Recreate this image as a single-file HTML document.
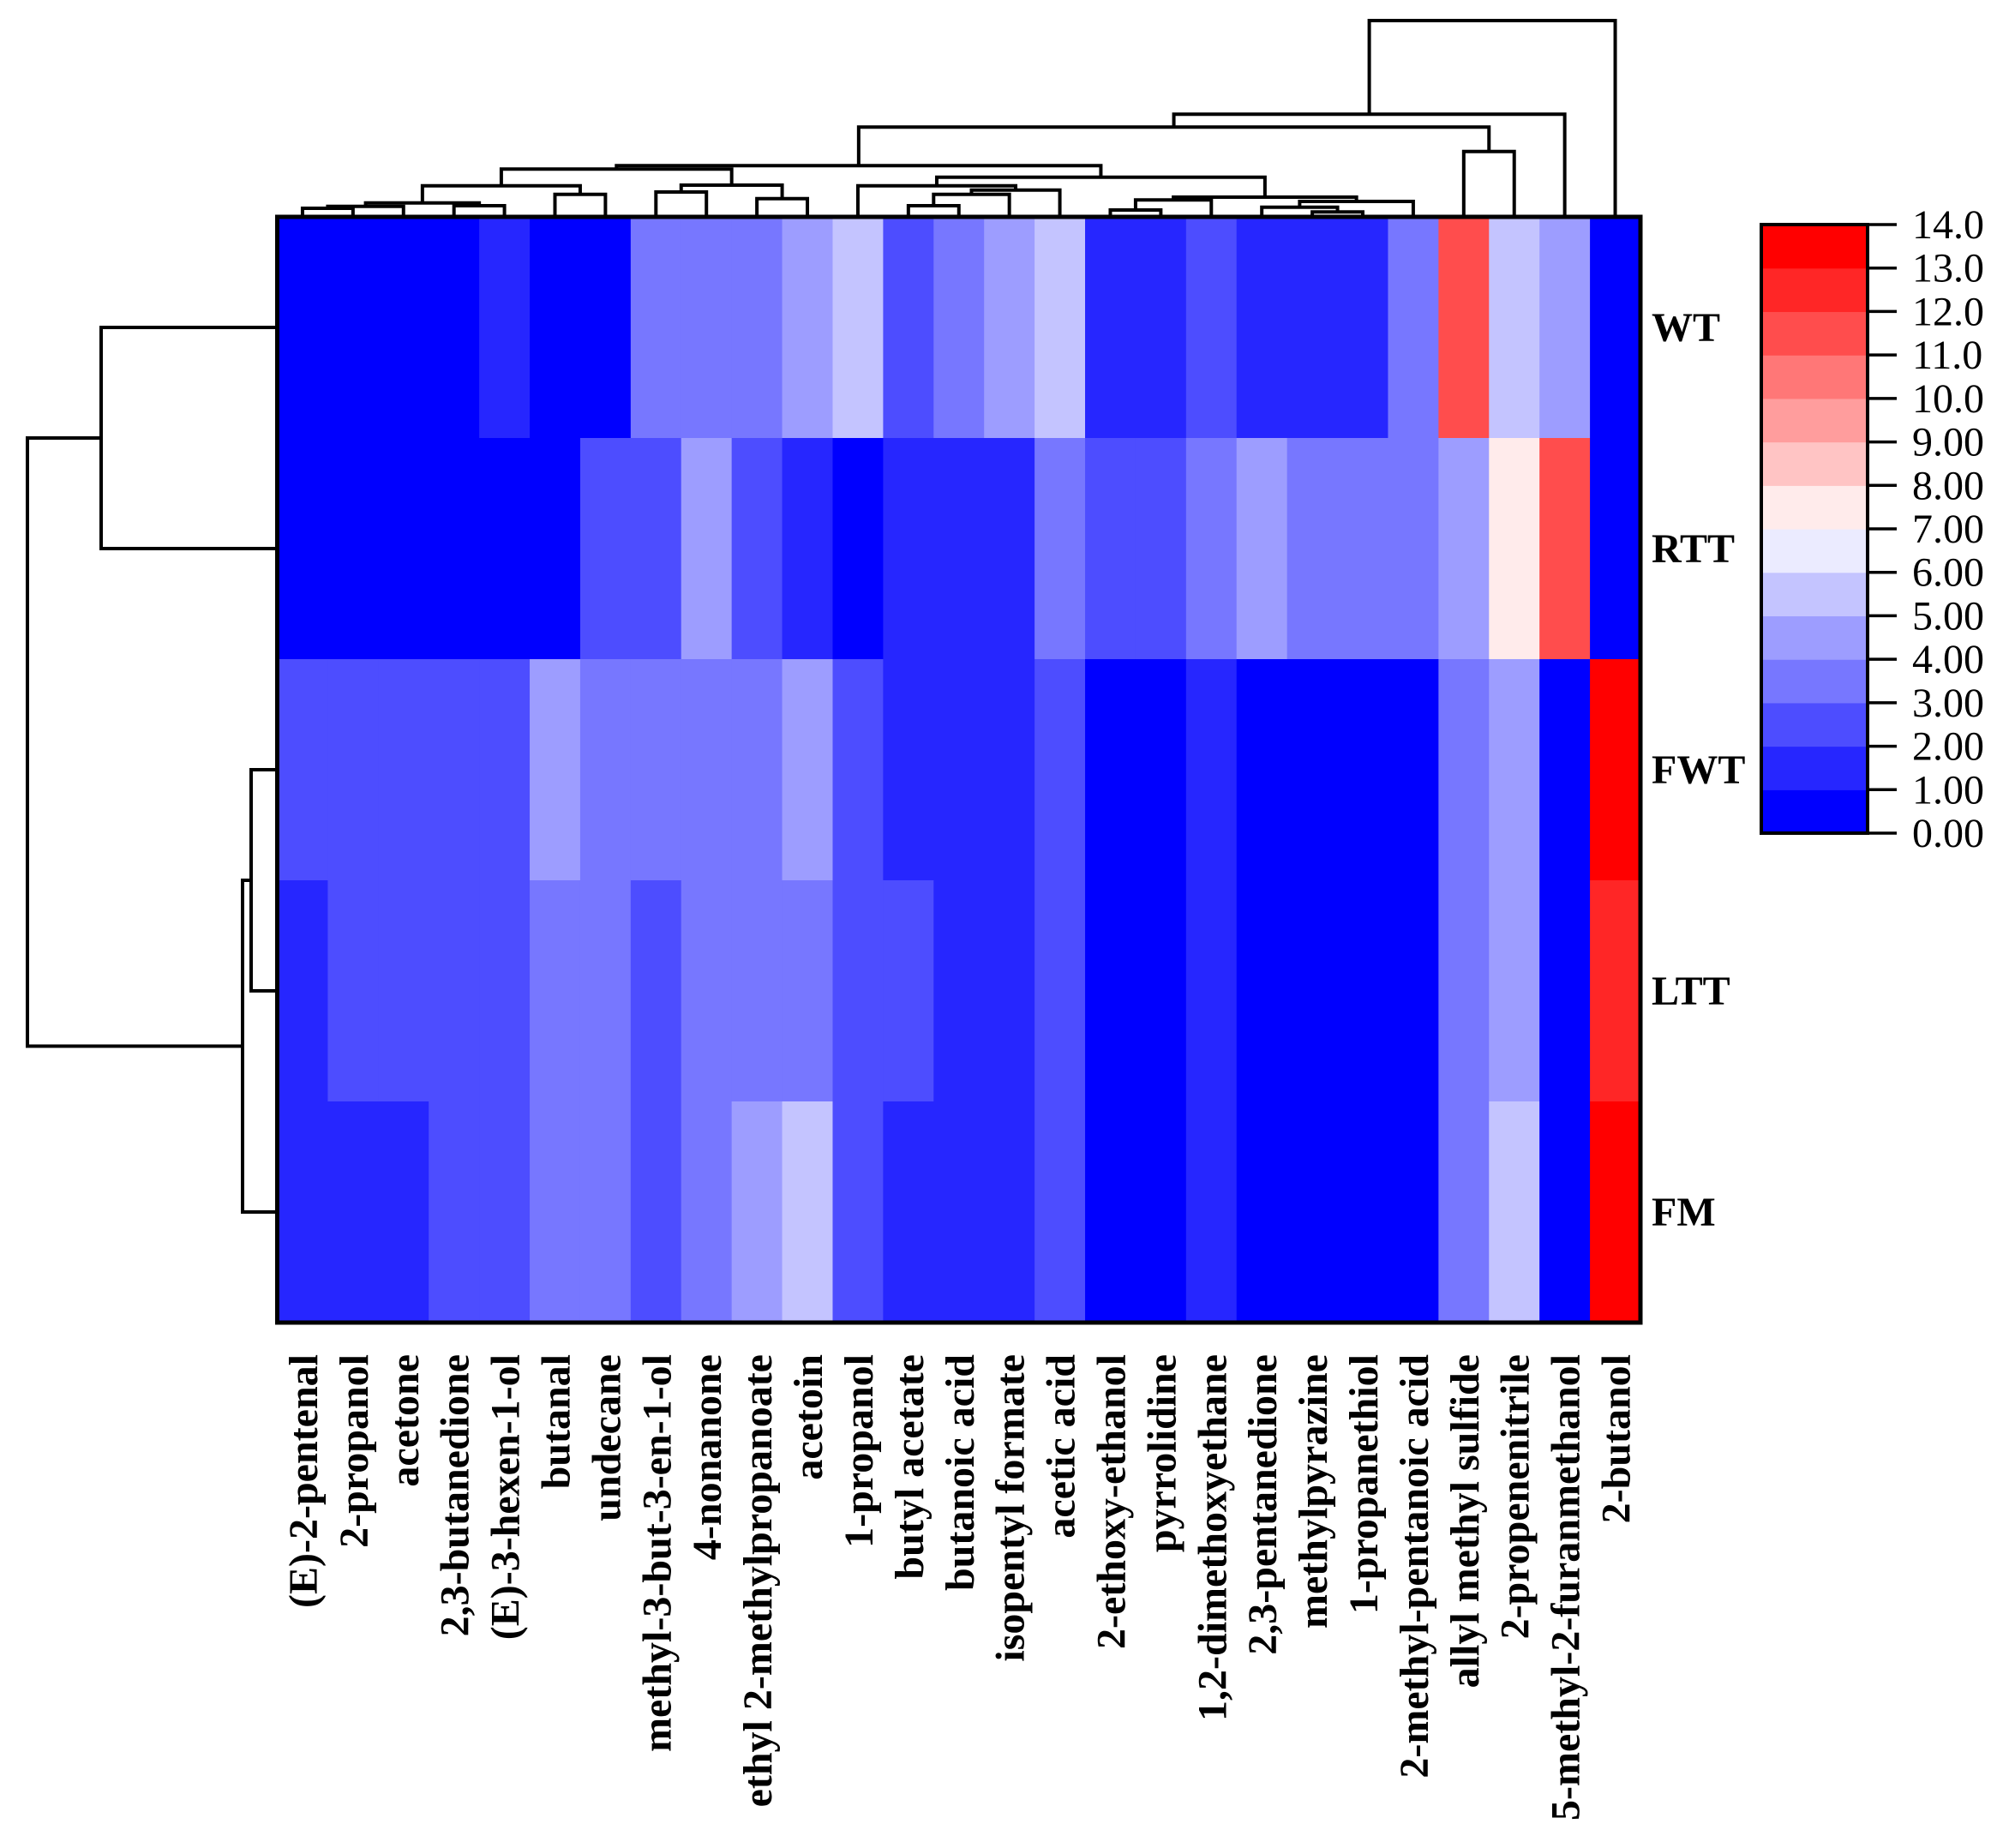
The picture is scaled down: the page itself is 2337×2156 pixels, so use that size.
<!DOCTYPE html>
<html><head><meta charset="utf-8"><style>
html,body{margin:0;padding:0;background:#fff;}
svg{display:block;}
text{font-family:"Liberation Serif",serif;}
</style></head><body>
<svg id="chart" width="2337" height="2156" viewBox="0 0 2337 2156" xmlns="http://www.w3.org/2000/svg">
<g id="cells"></g>
<g id="coldend"></g>
<g id="rowdend"></g>
<g id="collabels"></g>
<g id="rowlabels"></g>
<g id="legend"></g>
</svg>
<script>
const compounds = ["(E)-2-pentenal","2-propanol","acetone","2,3-butanedione","(E)-3-hexen-1-ol","butanal","undecane","methyl-3-but-3-en-1-ol","4-nonanone","ethyl 2-methylpropanoate","acetoin","1-propanol","butyl acetate","butanoic acid","isopentyl formate","acetic acid","2-ethoxy-ethanol","pyrrolidine","1,2-dimethoxyethane","2,3-pentanedione","methylpyrazine","1-propanethiol","2-methyl-pentanoic acid","allyl methyl sulfide","2-propenenitrile","5-methyl-2-furanmethanol","2-butanol"];
const samples = ["WT","RTT","FWT","LTT","FM"];
const valsWT  = [0.5,0.5,0.5,0.5,1.5,0.5,0.5,3.5,3.5,3.5,4.5,5.5,2.5,3.5,4.5,5.5,1.5,1.5,2.5,1.5,1.5,1.5,3.5,11.5,5.5,4.5,0.5];
const valsRTT = [0.5,0.5,0.5,0.5,0.5,0.5,2.5,2.5,4.5,2.5,1.5,0.5,1.5,1.5,1.5,3.5,2.5,2.5,3.5,4.5,3.5,3.5,3.5,4.5,7.5,11.5,0.5];
const valsFWT = [2.5,2.5,2.5,2.5,2.5,4.5,3.5,3.5,3.5,3.5,4.5,2.5,1.5,1.5,1.5,2.5,0.5,0.5,1.5,0.5,0.5,0.5,0.5,3.5,4.5,0.5,13.5];
const valsLTT = [1.5,2.5,2.5,2.5,2.5,3.5,3.5,2.5,3.5,3.5,3.5,2.5,2.5,1.5,1.5,2.5,0.5,0.5,1.5,0.5,0.5,0.5,0.5,3.5,4.5,0.5,12.5];
const valsFM  = [1.5,1.5,1.5,2.5,2.5,3.5,3.5,2.5,3.5,4.5,5.5,2.5,1.5,1.5,1.5,2.5,0.5,0.5,1.5,0.5,0.5,0.5,0.5,3.5,5.5,0.5,13.5];
const scaleTicks = ["0.00","1.00","2.00","3.00","4.00","5.00","6.00","7.00","8.00","9.00","10.0","11.0","12.0","13.0","14.0"];
// column linkage: [childA, childB, height]
const colLinks = [[0,1,243],[27,2,240.7],[3,4,240],[28,29,236.7],[5,6,226.7],[30,31,216.7],[7,8,224],[9,10,231.7],[33,34,216],[32,35,197.3],
[12,13,240],[37,14,226.7],[38,15,221.7],[11,39,216.7],[16,17,245],[41,18,233.3],[20,21,247.3],[19,43,241.7],[44,22,235],[42,45,230],[40,46,206.7],
[36,47,193.3],[23,24,176.7],[48,49,148.3],[50,25,133.3],[51,26,24]];
const rowLinks = [[0,1,118],[2,3,293],[6,4,283],[5,7,32]];

const NS="http://www.w3.org/2000/svg";
const X0=323.5,X1=1914,Y0=253,Y1=1543;
const cw=(X1-X0)/compounds.length, rh=(Y1-Y0)/samples.length;
const colors=["#0000ff","#2626ff","#4d4dff","#7777ff","#9d9dff","#c4c4ff","#ebebff","#ffebeb","#ffc4c4","#ff9d9d","#ff7777","#ff4d4d","#ff2626","#ff0000"];
function colorOf(v){let k=Math.floor(v);if(k<0)k=0;if(k>13)k=13;return colors[k];}
function el(tag,attrs,parent){const e=document.createElementNS(NS,tag);for(const k in attrs)e.setAttribute(k,attrs[k]);parent.appendChild(e);return e;}
const colX=i=>X0+cw*(i+0.5), rowY=j=>Y0+rh*(j+0.5);
const rows=[valsWT,valsRTT,valsFWT,valsLTT,valsFM];
const gc=document.getElementById('cells');
rows.forEach((r,j)=>r.forEach((v,i)=>{
 const c=el('rect',{x:X0+cw*i,y:Y0+rh*j,width:cw+0.6,height:rh+0.6,fill:colorOf(v)},gc);
 
 
}));
const frame=el('rect',{x:X0,y:Y0,width:X1-X0,height:Y1-Y0,fill:'none',stroke:'#000','stroke-width':5},gc);


const gd=document.getElementById('coldend');
const pos={},hgt={};
compounds.forEach((c,i)=>{pos[i]=colX(i);hgt[i]=Y0;});
colLinks.forEach((l,k)=>{
 const id=compounds.length+k,a=l[0],b=l[1],h=l[2];
 const p=el('path',{d:`M${pos[a]},${hgt[a]}V${h}H${pos[b]}V${hgt[b]}`,fill:'none',stroke:'#000','stroke-width':4},gd);
 
 
 pos[id]=(pos[a]+pos[b])/2;hgt[id]=h;
});
const gr=document.getElementById('rowdend');
const rp={},rx={};
samples.forEach((s,j)=>{rp[j]=rowY(j);rx[j]=X0;});
rowLinks.forEach((l,k)=>{
 const id=samples.length+k,a=l[0],b=l[1],h=l[2];
 const p=el('path',{d:`M${rx[a]},${rp[a]}H${h}V${rp[b]}H${rx[b]}`,fill:'none',stroke:'#000','stroke-width':4},gr);
 
 
 rp[id]=(rp[a]+rp[b])/2;rx[id]=h;
});
const gl=document.getElementById('collabels');
compounds.forEach((c,i)=>{
 const x=colX(i)+17,y=1580;
 const t=el('text',{x:x,y:y,transform:`rotate(-90 ${x} ${y})`,'text-anchor':'end','font-size':48,'font-weight':'bold',fill:'#000'},gl);
 t.textContent=c;
 
 
});
const grl=document.getElementById('rowlabels');
samples.forEach((s,j)=>{
 const t=el('text',{x:1927,y:rowY(j)+16,'font-size':48,'font-weight':'bold',fill:'#000'},grl);
 t.textContent=s;
 
 
});
const lg=document.getElementById('legend');
const LX0=2055,LX1=2179,LY0=262,LY1=972,n=scaleTicks.length-1,bh=(LY1-LY0)/n;
for(let k=0;k<n;k++){
 const r=el('rect',{x:LX0,y:LY1-bh*(k+1),width:LX1-LX0,height:bh+0.6,fill:colors[k]},lg);
 
 
}
const lf=el('rect',{x:LX0,y:LY0,width:LX1-LX0,height:LY1-LY0,fill:'none',stroke:'#000','stroke-width':4},lg);


scaleTicks.forEach((s,k)=>{
 const y=LY1-bh*k;
 const tk=el('line',{x1:LX1,x2:2213,y1:y,y2:y,stroke:'#000','stroke-width':3.5},lg);
 
 
 const t=el('text',{x:2231,y:y+16,'font-size':48,fill:'#000'},lg);
 t.textContent=s;
 
 
});
</script>
</body></html>
